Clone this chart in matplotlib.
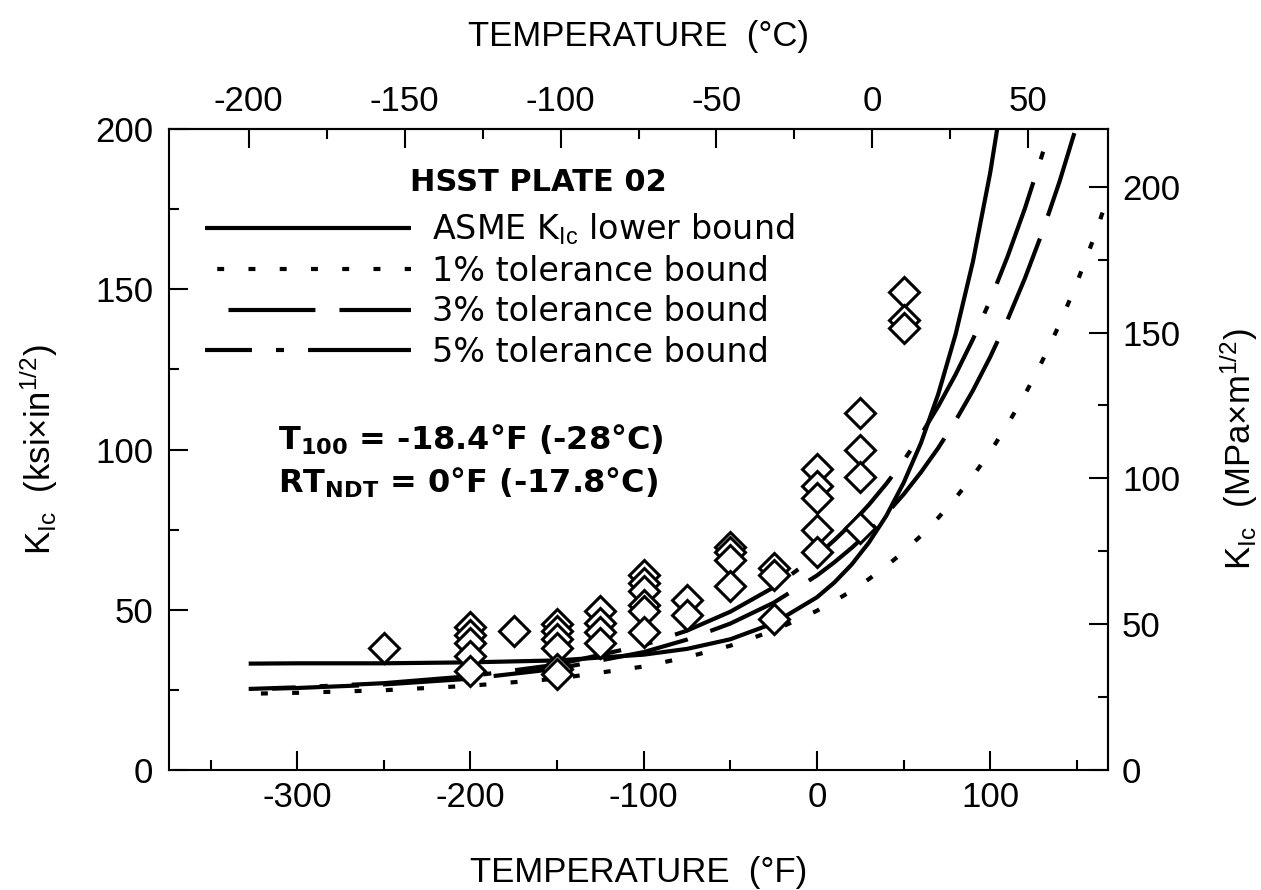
import numpy as np
import matplotlib.pyplot as plt
from matplotlib.ticker import FixedLocator

plt.rcParams["font.family"] = "Liberation Sans"
plt.rcParams["axes.unicode_minus"] = False
plt.rcParams["mathtext.fontset"] = "custom"
plt.rcParams["mathtext.rm"] = "Liberation Sans"
plt.rcParams["mathtext.it"] = "Liberation Sans:italic"
plt.rcParams["mathtext.bf"] = "DejaVu Sans:bold"
plt.rcParams["lines.scale_dashes"] = False

# fracture toughness tests, HSST plate 02 (temperature in F, K_Ic in ksi*in^1/2)
test_temp = [-250,
             -200, -200, -200, -200, -200,
             -175,
             -150, -150, -150, -150, -150, -150,
             -125, -125, -125, -125,
             -100, -100, -100, -100, -100, -100,
             -75, -75,
             -50, -50, -50, -50,
             -25, -25, -25,
             0, 0, 0, 0, 0,
             25, 25, 25, 25,
             50, 50, 50]
test_kic = [38,
            44.5, 42, 39.5, 35.5, 31,
            43.5,
            45.5, 43.5, 41, 38, 31.5, 30,
            49.5, 46, 43, 39.5,
            61, 58.5, 56, 51.5, 49.5, 43,
            53, 48.5,
            69.5, 68, 65.5, 57.5,
            63, 61, 47,
            94, 88.5, 85, 75, 68,
            111.5, 100, 91.5, 75.5,
            149, 140.5, 138]

# lower bound curves
nan = np.nan
curve_temp = [-328, -300, -250, -200, -150, -100, -75, -50, -25, 0,
              10, 20, 30, 40, 50, 60, 70, 80, 90, 100,
              110, 120, 130, 140, 150, 160, 170]
asme_kic = [33.2, 33.3, 33.3, 33.6, 34.2, 36.0, 37.8, 40.8, 45.8, 53.9,
            58.5, 64.1, 71.0, 79.3, 89.6, 102.0, 117.3, 135.9, 158.6, 186.4,
            220.3, nan, nan, nan, nan, nan, nan]
tol1_kic = [23.8, 24.1, 24.9, 26.3, 28.5, 32.3, 35.2, 38.8, 43.5, 49.7,
            52.7, 55.9, 59.6, 63.6, 68.1, 73.1, 78.7, 84.9, 91.7, 99.3,
            107.8, 117.1, 127.6, 139.1, 152.0, 166.3, 182.1]
tol3_kic = [25.2, 25.6, 26.7, 28.5, 31.6, 36.8, 40.7, 45.7, 52.2, 60.7,
            64.8, 69.3, 74.3, 79.9, 86.0, 92.9, 100.5, 109.0, 118.4, 128.9,
            140.5, 153.4, 167.7, 183.6, 201.3, 220.9, nan]
tol5_kic = [25.3, 25.8, 27.1, 29.3, 32.9, 39.0, 43.5, 49.4, 57.0, 66.9,
            71.7, 76.9, 82.8, 89.3, 96.5, 104.6, 113.5, 123.4, 134.4, 146.6,
            160.2, 175.2, 192.0, 210.6, nan, nan, nan]

KSI_TO_MPA = 1.0988


def f_to_c(t):
    return (t - 32.0) / 1.8


def c_to_f(t):
    return t * 1.8 + 32.0


fig = plt.figure(figsize=(12.61, 8.90), dpi=100)
ax = fig.add_axes([0.1340, 0.1348, 0.7447, 0.7202])

lw = 3.0
ax.plot(curve_temp, asme_kic, color="black", lw=lw, solid_capstyle="butt",
        label=r"ASME K$_{\rm Ic}$ lower bound")
ax.plot(curve_temp, tol1_kic, color="black", lw=lw,
        linestyle=(13.7, (5.0, 17.5)), label="1% tolerance bound")
ax.plot(curve_temp, tol3_kic, color="black", lw=lw,
        linestyle=(63.0, (62.6, 17.3)), label="3% tolerance bound")
ax.plot(curve_temp, tol5_kic, color="black", lw=lw,
        linestyle=(44.0, (77.8, 17.3, 5.8, 17.3)), label="5% tolerance bound")

ax.plot(test_temp, test_kic, linestyle="none", marker="D", markersize=15,
        markerfacecolor="white", markeredgecolor="black", markeredgewidth=2.2,
        zorder=5)

ax.set_xlim(-374, 168)
ax.set_ylim(0, 200)

tick_size = 25
ax.set_xticks([-300, -200, -100, 0, 100])
ax.xaxis.set_minor_locator(FixedLocator([-350, -250, -150, -50, 50, 150]))
ax.set_yticks([0, 50, 100, 150, 200])
ax.yaxis.set_minor_locator(FixedLocator([25, 75, 125, 175]))
ax.tick_params(which="both", direction="in", width=1.5, labelsize=tick_size,
               top=False, right=False)
ax.tick_params(which="major", length=13.5)
ax.tick_params(which="minor", length=7)
ax.tick_params(axis="x", which="major", pad=8)
ax.tick_params(axis="y", which="major", pad=11.5)
for sp in ax.spines.values():
    sp.set_linewidth(1.5)

# Celsius scale on top, SI toughness on the right
secx = ax.secondary_xaxis("top", functions=(f_to_c, c_to_f))
secx.set_xticks([-200, -150, -100, -50, 0, 50])
secx.xaxis.set_minor_locator(FixedLocator([-175, -125, -75, -25, 25]))
secx.tick_params(which="both", direction="in", width=1.5, labelsize=tick_size)
secx.tick_params(which="major", length=13.5, pad=8)
secx.tick_params(which="minor", length=7)
secx.spines["top"].set_linewidth(1.5)

secy = ax.secondary_yaxis("right", functions=(lambda k: k * KSI_TO_MPA,
                                                lambda m: m / KSI_TO_MPA))
secy.set_yticks([0, 50, 100, 150, 200])
secy.yaxis.set_minor_locator(FixedLocator([25, 75, 125, 175]))
secy.tick_params(which="both", direction="in", width=1.5, labelsize=tick_size)
secy.tick_params(which="major", length=13.5, pad=10)
secy.tick_params(which="minor", length=7)
secy.spines["right"].set_linewidth(1.5)

label_size = 25
ax.set_xlabel("TEMPERATURE  (°F)", fontsize=label_size, labelpad=30)
secx.set_xlabel("TEMPERATURE  (°C)", fontsize=label_size, labelpad=28)
ax.set_ylabel(r"K$_{\rm Ic}$  (ksi×in$^{1/2}$)", fontsize=label_size,
              labelpad=25)
secy.set_ylabel(r"K$_{\rm Ic}$  (MPa×m$^{1/2}$)", fontsize=label_size,
                labelpad=27)

ax.text(0.257, 0.917, "HSST PLATE 02", transform=ax.transAxes,
        family="DejaVu Sans", fontweight="bold", fontsize=22, va="center")
ax.legend(loc="upper left", bbox_to_anchor=(0.038, 0.871), frameon=False,
          prop={"family": "DejaVu Sans", "size": 24},
          handlelength=6.2, handletextpad=0.62, labelspacing=0.23,
          borderpad=0, borderaxespad=0)

txt = dict(transform=ax.transAxes, fontsize=23, fontweight="bold",
           family="DejaVu Sans", va="baseline")
ax.text(0.116, 0.499, r"T$_{\mathbf{100}}$ = -18.4°F (-28°C)", **txt)
ax.text(0.116, 0.432, r"RT$_{\mathbf{NDT}}$ = 0°F (-17.8°C)", **txt)

fig.savefig("out.png", dpi=100)
